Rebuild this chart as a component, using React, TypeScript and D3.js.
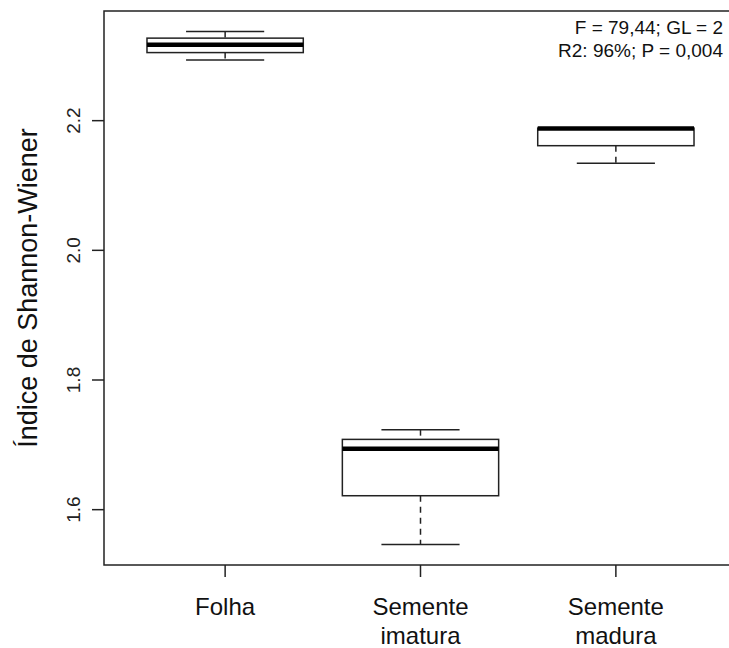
import { useEffect, useRef } from 'react';
import * as d3 from 'd3';

// data
const categories = ['Folha', 'Semente\nimatura', 'Semente\nmadura'];
const whiskerLow = [2.2937, 1.5463, 2.1342];
const quart1 = [2.305, 1.6215, 2.1614];
const medians = [2.3169, 1.6941, 2.1878];
const quart3 = [2.3273, 1.7084, 2.1885];
const whiskerHigh = [2.3375, 1.7234, 2.1885];
const yTicks = [1.6, 1.8, 2.0, 2.2];
const statLines = ['F = 79,44; GL = 2', 'R2: 96%; P = 0,004'];

const W = 729;
const H = 648;
const FONT = 'Liberation Sans, Arial, Helvetica, sans-serif';
const INK = '#222';

const App = () => {
    const svgRef = useRef<SVGSVGElement>(null);

    useEffect(() => {
        const svg = d3.select(svgRef.current);
        svg.selectAll('*').remove();

        const left = 104, right = 737, top = 11, bottom = 565;
        const n = categories.length;

        // R style axis: 4% padding
        const lo = d3.min(whiskerLow) as number;
        const hi = d3.max(whiskerHigh) as number;
        const pad = (hi - lo) * 0.04;
        const y = d3.scaleLinear().domain([lo - pad, hi + pad]).range([bottom, top]);
        const xr = n * 0.04;
        const x = d3.scaleLinear().domain([0.5 - xr, n + 0.5 + xr]).range([left, right]);

        const unit = x(2) - x(1);
        const boxW = unit * 0.8;
        const capW = boxW * 0.5;

        const g = svg.append('g');

        categories.forEach((_, i) => {
            const cx = x(i + 1);
            // whiskers
            g.append('line')
                .attr('x1', cx).attr('x2', cx)
                .attr('y1', y(whiskerHigh[i])).attr('y2', y(quart3[i]))
                .attr('stroke', INK).attr('stroke-width', 1.5).attr('stroke-dasharray', '6,5');
            g.append('line')
                .attr('x1', cx).attr('x2', cx)
                .attr('y1', y(quart1[i])).attr('y2', y(whiskerLow[i]))
                .attr('stroke', INK).attr('stroke-width', 1.5).attr('stroke-dasharray', '6,5');
            [whiskerHigh[i], whiskerLow[i]].forEach(v => {
                g.append('line')
                    .attr('x1', cx - capW / 2).attr('x2', cx + capW / 2)
                    .attr('y1', y(v)).attr('y2', y(v))
                    .attr('stroke', INK).attr('stroke-width', 1.5);
            });
            // box
            g.append('rect')
                .attr('x', cx - boxW / 2)
                .attr('y', y(quart3[i]))
                .attr('width', boxW)
                .attr('height', y(quart1[i]) - y(quart3[i]))
                .attr('fill', 'white')
                .attr('stroke', INK)
                .attr('stroke-width', 1.5);
            // median
            g.append('line')
                .attr('x1', cx - boxW / 2).attr('x2', cx + boxW / 2)
                .attr('y1', y(medians[i])).attr('y2', y(medians[i]))
                .attr('stroke', '#000').attr('stroke-width', 4.5);
        });

        // frame
        svg.append('rect')
            .attr('x', left).attr('y', top)
            .attr('width', right - left).attr('height', bottom - top)
            .attr('fill', 'none').attr('stroke', INK).attr('stroke-width', 1.5);

        // y axis ticks
        yTicks.forEach(t => {
            svg.append('line')
                .attr('x1', left - 12).attr('x2', left)
                .attr('y1', y(t)).attr('y2', y(t))
                .attr('stroke', INK).attr('stroke-width', 1.5);
            svg.append('text')
                .attr('transform', `translate(80,${y(t)}) rotate(-90)`)
                .attr('text-anchor', 'middle')
                .attr('font-family', FONT)
                .attr('font-size', 19)
                .attr('fill', INK)
                .text(d3.format('.1f')(t));
        });

        // x axis ticks + labels
        categories.forEach((c, i) => {
            const cx = x(i + 1);
            svg.append('line')
                .attr('x1', cx).attr('x2', cx)
                .attr('y1', bottom).attr('y2', bottom + 12)
                .attr('stroke', INK).attr('stroke-width', 1.5);
            c.split('\n').forEach((ln, j) => {
                svg.append('text')
                    .attr('x', cx).attr('y', 615 + j * 29)
                    .attr('text-anchor', 'middle')
                    .attr('font-family', FONT)
                    .attr('font-size', 24)
                    .attr('fill', '#111')
                    .text(ln);
            });
        });

        // y title
        svg.append('text')
            .attr('transform', `translate(37,${(top + bottom) / 2}) rotate(-90)`)
            .attr('text-anchor', 'middle')
            .attr('font-family', FONT)
            .attr('font-size', 27)
            .attr('fill', '#111')
            .text('Índice de Shannon-Wiener');

        // stats
        statLines.forEach((s, i) => {
            svg.append('text')
                .attr('x', 723).attr('y', 34 + i * 23)
                .attr('text-anchor', 'end')
                .attr('font-family', FONT)
                .attr('font-size', 19)
                .attr('fill', '#111')
                .text(s);
        });
    }, []);

    return (
        <div style={{ position: 'absolute', left: 0, top: 0, width: W, height: H, background: 'white' }}>
            <svg ref={svgRef} width={W} height={H} style={{ display: 'block' }}></svg>
        </div>
    );
};

export default App;
